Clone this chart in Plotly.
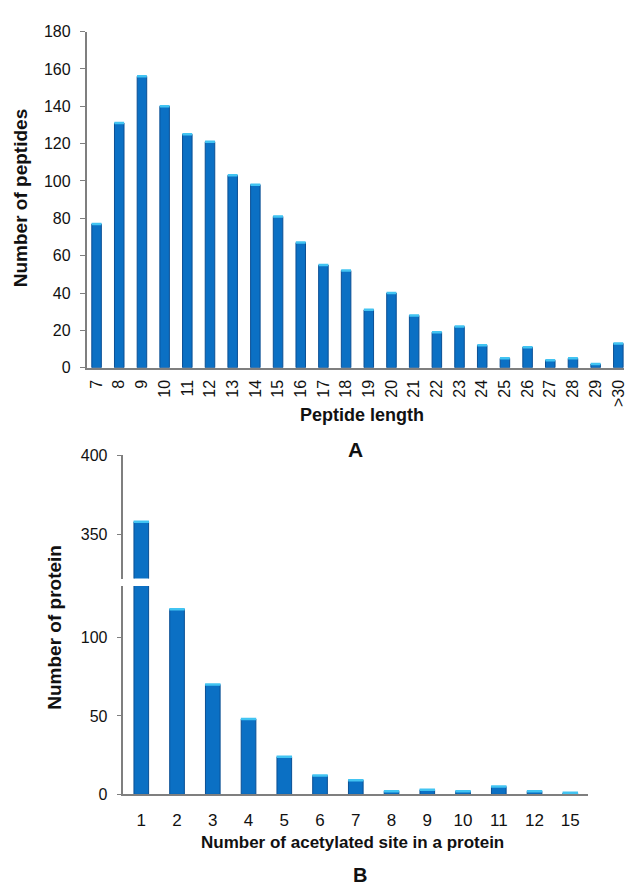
import plotly.graph_objects as go

# ---- data ----
pep_len = ["7", "8", "9", "10", "11", "12", "13", "14", "15", "16", "17", "18",
           "19", "20", "21", "22", "23", "24", "25", "26", "27", "28", "29", ">30"]
pep_count = [77, 131, 156, 140, 125, 121, 103, 98, 81, 67, 55, 52,
             31, 40, 28, 19, 22, 12, 5, 11, 4, 5, 2, 13]

sites = ["1", "2", "3", "4", "5", "6", "7", "8", "9", "10", "11", "12", "15"]
prot_count = [358, 118, 70, 48, 24, 12, 9, 2, 3, 2, 5, 2, 1]

W, H = 627, 892
BAR = "#0b70c4"
EDGE = "#0a4f94"
CAP = "#42c4f2"
AX = "#7f7f7f"
TXT = "#111111"
FONT = "Liberation Sans, Arial, sans-serif"

def py(p):  # pixel y -> paper
    return 1 - p / H

def px(p):
    return p / W

fig = go.Figure()

bar_kw = dict(marker=dict(color=BAR, line=dict(color=EDGE, width=1)),
              showlegend=False, hoverinfo="x+y")

# top panel
fig.add_trace(go.Bar(x=pep_len, y=pep_count, xaxis="x", yaxis="y", width=0.42, **bar_kw))
fig.add_trace(go.Scatter(x=pep_len, y=pep_count, xaxis="x", yaxis="y", mode="markers",
                         marker=dict(symbol="line-ew", size=7, line=dict(color=CAP, width=2.5)),
                         showlegend=False, hoverinfo="skip"))

# bottom panel, lower and upper segments of the broken axis
for xa, ya in (("x2", "y2"), ("x3", "y3")):
    fig.add_trace(go.Bar(x=sites, y=prot_count, xaxis=xa, yaxis=ya, width=0.41, **bar_kw))
    fig.add_trace(go.Scatter(x=sites, y=prot_count, xaxis=xa, yaxis=ya, mode="markers",
                             marker=dict(symbol="line-ew", size=11, line=dict(color=CAP, width=2.5)),
                             showlegend=False, hoverinfo="skip"))

tickfont = dict(family=FONT, size=16, color=TXT)

common_y = dict(showline=True, linecolor=AX, linewidth=1.5, ticks="outside",
                ticklen=5, tickcolor=AX, tickfont=tickfont, ticklabelstandoff=6,
                showgrid=False, zeroline=False)

fig.update_layout(
    width=W, height=H, margin=dict(l=0, r=0, t=0, b=0),
    paper_bgcolor="white", plot_bgcolor="white",
    font=dict(family=FONT, color=TXT),
    xaxis=dict(domain=[px(87), 1], range=[-0.44, 23.25], type="category",
               showline=True, linecolor=AX, linewidth=1.5, ticks="",
               tickangle=-90, tickfont=dict(family=FONT, size=16, color=TXT),
               ticklabelstandoff=4, showgrid=False, zeroline=False),
    yaxis=dict(domain=[py(366.7), py(24)], range=[0, 180], dtick=20, **common_y),
    xaxis2=dict(domain=[px(124), px(591)], range=[-0.5, 12.5], type="category",
                anchor="y2", showline=True, linecolor=AX, linewidth=1.5, ticks="",
                tickfont=dict(family=FONT, size=17, color=TXT), ticklabelstandoff=9,
                showgrid=False, zeroline=False),
    yaxis2=dict(domain=[py(801.7), py(589.3)], range=[0, 132.7], tickvals=[0, 50, 100],
                anchor="x2", **common_y),
    xaxis3=dict(domain=[px(124), px(591)], range=[-0.5, 12.5], type="category",
                anchor="y3", matches="x2", visible=False),
    yaxis3=dict(domain=[py(581.7), py(456)], range=[322, 400], tickvals=[350, 400],
                anchor="x3", **common_y),
)

def ann(text, x, y, size, angle=0):
    fig.add_annotation(text=text, x=px(x), y=py(y), xref="paper", yref="paper",
                       showarrow=False, textangle=angle, xanchor="center", yanchor="middle",
                       font=dict(family=FONT, size=size, color=TXT))

ann("<b>Number of peptides</b>", 20, 194, 19, -90)
ann("<b>Peptide length</b>", 364, 415, 18)
ann("<b>A</b>", 357, 450, 21)
ann("<b>Number of protein</b>", 55, 631, 19, -90)
ann("<b>Number of acetylated site in a protein</b>", 354, 851, 17)
ann("<b>B</b>", 362, 884, 20)

fig.write_html("out.html")
